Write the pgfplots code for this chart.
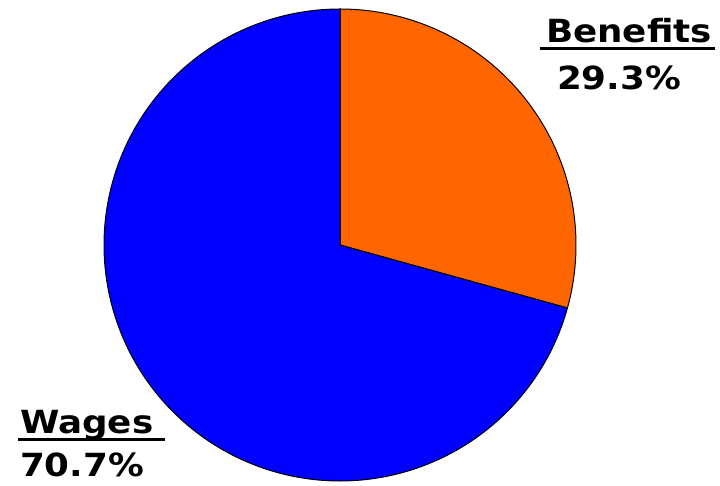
\documentclass[border=0pt]{standalone}
\usepackage{fontspec}
\setmainfont{DejaVu Sans}[FakeStretch=1.12]
\usepackage{pgfplots}
\pgfplotsset{compat=1.18}
\definecolor{benef}{HTML}{FF6600}
\definecolor{wages}{HTML}{0000FF}
% shares in percent
\def\benefits{29.3}
\def\wagesv{70.7}
\newcommand\lab{\bfseries\fontsize{32}{38}\selectfont}
\begin{document}
\begin{tikzpicture}
\begin{axis}[
  scale only axis, width=720bp, height=485bp,
  xmin=0, xmax=720, ymin=-485, ymax=0,
  hide axis, clip=false,
]
\path (axis cs:0,0) rectangle (axis cs:720,-485);
% Benefits slice, clockwise from 12 o'clock
\addplot[fill=benef, draw=black, line width=1bp, domain=0:\benefits*3.6, samples=120, variable=\t]
  ({340+236*sin(\t)}, {-245+236*cos(\t)}) -- (axis cs:340,-245) -- cycle;
% Wages slice
\addplot[fill=wages, draw=black, line width=1bp, domain=\benefits*3.6:360, samples=240, variable=\t]
  ({340+236*sin(\t)}, {-245+236*cos(\t)}) -- (axis cs:340,-245) -- cycle;
\node[anchor=base west, inner sep=0pt, outer sep=0pt] at (axis cs:546,-43) {\lab\rlap{\hspace{-6bp}\rule[-7.5bp]{175bp}{3bp}}Benefits};
\node[anchor=base west, inner sep=0pt, outer sep=0pt] at (axis cs:557,-90) {\lab 29.3\%};
\node[anchor=base west, inner sep=0pt, outer sep=0pt] at (axis cs:20,-433) {\lab\rlap{\hspace{-2bp}\rule[-8bp]{147bp}{3bp}}Wages};
\node[anchor=base west, inner sep=0pt, outer sep=0pt] at (axis cs:20,-476) {\lab 70.7\%};
\end{axis}
\end{tikzpicture}
\end{document}
